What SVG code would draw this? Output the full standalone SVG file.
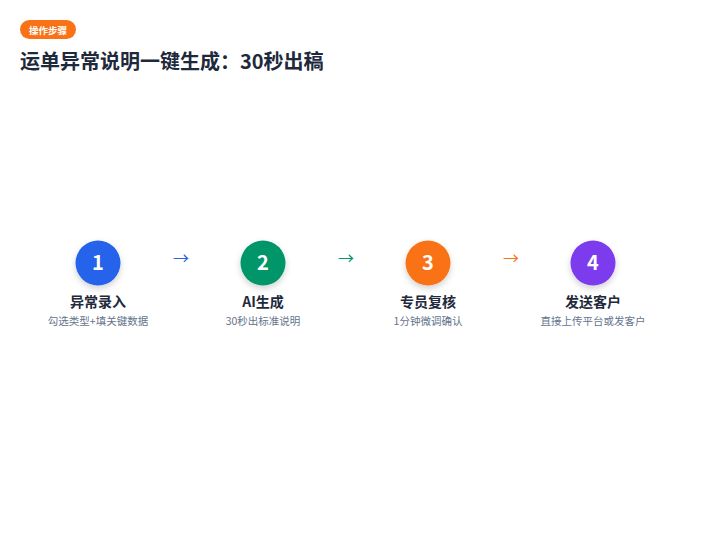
<svg xmlns="http://www.w3.org/2000/svg" width="720" height="540" viewBox="0 0 720 540">
<defs>
<style>
text{font-family:"Noto Sans CJK SC","Noto Sans",sans-serif}
.num{font-size:20px;font-weight:700;fill:#fff;text-anchor:middle}
.lbl{font-size:14px;font-weight:700;fill:#1e293b;text-anchor:middle}
.sub{font-size:10.5px;fill:#64748b;text-anchor:middle}
.arr{font-size:16px;text-anchor:middle}
</style>
<filter id="sh" x="-50%" y="-50%" width="200%" height="200%"><feDropShadow dx="0" dy="3" stdDeviation="3" flood-opacity="0.18"/></filter>
</defs>
<rect width="720" height="540" fill="#fff"/>
<g id="header">
<rect x="20" y="20" width="56" height="19" rx="9.5" fill="#f97316"/>
<text x="48" y="33.5" font-size="9.5" font-weight="700" fill="#fff" text-anchor="middle">操作步骤</text>
<text x="20" y="69" font-size="20" font-weight="700" fill="#1e293b">运单异常说明一键生成：30秒出稿</text>
</g>
<g id="connectors">
<text class="arr" x="181" y="264" fill="#2563eb">→</text>
<text class="arr" x="346" y="264" fill="#059669">→</text>
<text class="arr" x="511" y="264" fill="#f97316">→</text>
</g>
<g id="step1"><circle cx="98" cy="263" r="22.5" fill="#2563eb" filter="url(#sh)"/><text class="num" x="98" y="270">1</text><text class="lbl" x="98" y="307">异常录入</text><text class="sub" x="98" y="325">勾选类型+填关键数据</text></g>
<g id="step2"><circle cx="263" cy="263" r="22.5" fill="#059669" filter="url(#sh)"/><text class="num" x="263" y="270">2</text><text class="lbl" x="263" y="307">AI生成</text><text class="sub" x="263" y="325">30秒出标准说明</text></g>
<g id="step3"><circle cx="428" cy="263" r="22.5" fill="#f97316" filter="url(#sh)"/><text class="num" x="428" y="270">3</text><text class="lbl" x="428" y="307">专员复核</text><text class="sub" x="428" y="325">1分钟微调确认</text></g>
<g id="step4"><circle cx="593" cy="263" r="22.5" fill="#7c3aed" filter="url(#sh)"/><text class="num" x="593" y="270">4</text><text class="lbl" x="593" y="307">发送客户</text><text class="sub" x="593" y="325">直接上传平台或发客户</text></g>
</svg>
